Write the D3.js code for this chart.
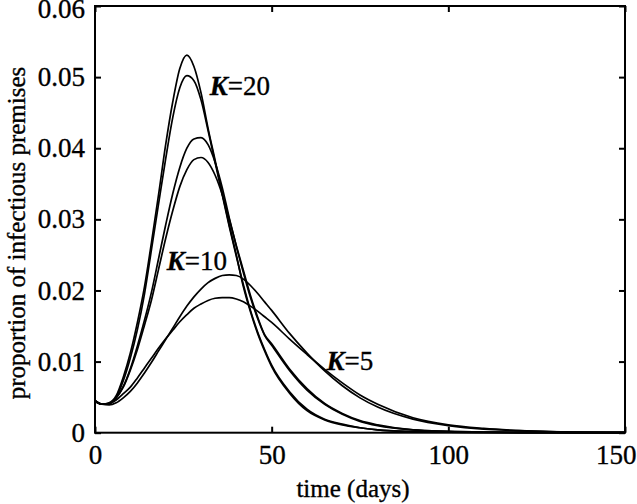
<!DOCTYPE html>
<html><head><meta charset="utf-8">
<script src="https://cdn.jsdelivr.net/npm/d3@7"></script>
<style>
body{margin:0;background:#fff}
svg text{font-family:"Liberation Serif","Times New Roman",serif;fill:#000}
</style>
</head><body><svg id="c" width="637" height="504"></svg>
<script>
const time = [0,2,4,6,8,10,12,14,16,18,20,22,24,26,28,30,32,34,36,38,40,42,44,46,48,50,55,60,65,70,75,80,90,100,110,120,135,150];
const k20a = [0.0045,0.0040,0.0042,0.0052,0.0078,0.0112,0.0155,0.0205,0.0268,0.0335,0.0405,0.0465,0.0512,0.0531,0.0515,0.0478,0.0428,0.0383,0.0337,0.0292,0.0250,0.0205,0.0170,0.0140,0.0115,0.0093,0.0056,0.0031,0.0018,0.0011,0.0007,0.0004,0.00015,0.00007,0.00003,0.00001,0,0];
const k20b = [0.0045,0.0040,0.0041,0.0050,0.0073,0.0105,0.0145,0.0195,0.0258,0.0322,0.0385,0.0443,0.0485,0.0502,0.0495,0.0468,0.0425,0.0380,0.0335,0.0290,0.0248,0.0208,0.0172,0.0142,0.0117,0.0095,0.0058,0.0033,0.0019,0.0012,0.0007,0.0004,0.00016,0.00007,0.00003,0.00001,0,0];
const k10a = [0.0045,0.0040,0.0041,0.0049,0.0065,0.0090,0.0122,0.0158,0.0198,0.0245,0.0292,0.0336,0.0373,0.0400,0.0413,0.0415,0.0405,0.0380,0.0345,0.0302,0.0262,0.0225,0.0190,0.0161,0.0137,0.0123,0.0088,0.0060,0.0040,0.0026,0.0016,0.0010,0.0004,0.0002,0.0001,0.00005,0.00002,0];
const k10b = [0.0045,0.0040,0.0041,0.0049,0.0064,0.0088,0.0117,0.0151,0.0187,0.0230,0.0273,0.0312,0.0346,0.0370,0.0384,0.0387,0.0380,0.0362,0.0335,0.0300,0.0263,0.0228,0.0193,0.0163,0.0138,0.0125,0.0090,0.0062,0.0041,0.0027,0.0017,0.0011,0.0004,0.0002,0.0001,0.00005,0.00002,0];
const k5a = [0.0045,0.0040,0.0039,0.0042,0.0049,0.0058,0.0070,0.0084,0.0099,0.0115,0.0131,0.0147,0.0163,0.0178,0.0191,0.0202,0.0211,0.0217,0.0221,0.0222,0.0221,0.0216,0.0207,0.0196,0.0184,0.0172,0.0140,0.0112,0.0087,0.0066,0.0049,0.0036,0.0019,0.0010,0.0005,0.0003,0.0001,0.00005];
const k5b = [0.0045,0.0040,0.0041,0.0046,0.0055,0.0064,0.0077,0.0091,0.0105,0.0119,0.0132,0.0144,0.0156,0.0166,0.0175,0.0181,0.0186,0.0189,0.0190,0.0190,0.0188,0.0184,0.0178,0.0171,0.0163,0.0155,0.0132,0.0110,0.0089,0.0070,0.0053,0.0040,0.0021,0.0011,0.0006,0.0003,0.0001,0.00005];
const seriesList = [k20a,k20b,k10a,k10b,k5a,k5b];
const xTicks = [0,50,100,150];
const yTicks = [0,0.01,0.02,0.03,0.04,0.05,0.06];
const yTickLabels = ["0","0.01","0.02","0.03","0.04","0.05","0.06"];
const curveLabels = [{k:"20",t:32.5,v:0.0475},{k:"10",t:20.3,v:0.0229},{k:"5",t:65.5,v:0.0088}];

const svg = d3.select("#c");
const L=95,R=625,T=6,B=432.7;
const x = d3.scaleLinear().domain([0,150]).range([L,R]);
const y = d3.scaleLinear().domain([0,0.06]).range([B,T]);

const line = d3.line().x((d,i)=>x(time[i])).y(d=>y(d)).curve(d3.curveMonotoneX);
svg.append("g").selectAll("path").data(seriesList).join("path")
  .attr("d",d=>line(d)).attr("fill","none").attr("stroke","#000").attr("stroke-width",1.7);

const fsTick = 27, fsTitle = 25, fsLab = 27;
const gb = svg.append("g").attr("transform",`translate(0,${B})`)
  .call(d3.axisBottom(x).tickValues(xTicks).tickSizeInner(-6).tickSizeOuter(0).tickPadding(12));
const gt = svg.append("g").attr("transform",`translate(0,${T})`)
  .call(d3.axisTop(x).tickValues(xTicks).tickSizeInner(-6).tickSizeOuter(0).tickFormat(""));
const gl = svg.append("g").attr("transform",`translate(${L},0)`)
  .call(d3.axisLeft(y).tickValues(yTicks).tickFormat((d,i)=>yTickLabels[i]).tickSizeInner(-6).tickSizeOuter(0).tickPadding(10));
const gr = svg.append("g").attr("transform",`translate(${R},0)`)
  .call(d3.axisRight(y).tickValues(yTicks).tickSizeInner(-6).tickSizeOuter(0).tickFormat(""));
[gb,gt,gl,gr].forEach(g=>{
  g.select(".domain").remove();
  g.selectAll(".tick line").attr("stroke","#000").attr("stroke-width",2);
  g.selectAll("text").attr("font-size",fsTick).attr("font-family",null).style("fill","#000")
   .style("stroke","#000").style("stroke-width",0.35);
});
// keep the edge tick labels inside the picture, as in the reference
gb.selectAll(".tick text").filter(d=>d===150).attr("text-anchor","end").attr("x",11);
gl.selectAll(".tick text").filter(d=>d===0.06).attr("y",3);
svg.append("rect").attr("x",L).attr("y",T).attr("width",R-L).attr("height",B-T)
  .attr("fill","none").attr("stroke","#000").attr("stroke-width",2);

svg.append("text").attr("x",(L+R)/2 - 7).attr("y",497).attr("text-anchor","middle")
  .attr("font-size",fsTitle).style("stroke","#000").style("stroke-width",0.35).text("time (days)");
svg.append("text").attr("transform",`translate(25,233) rotate(-90)`).attr("text-anchor","middle")
  .attr("font-size",fsTitle).style("stroke","#000").style("stroke-width",0.35).text("proportion of infectious premises");

const lab = svg.append("g").selectAll("text").data(curveLabels).join("text")
  .attr("x",d=>x(d.t)).attr("y",d=>y(d.v)).attr("font-size",fsLab)
  .style("stroke","#000").style("stroke-width",0.35);
lab.append("tspan").attr("font-style","italic").attr("font-weight","bold").text("K");
lab.append("tspan").text(d=>"="+d.k);
</script>
</body></html>
